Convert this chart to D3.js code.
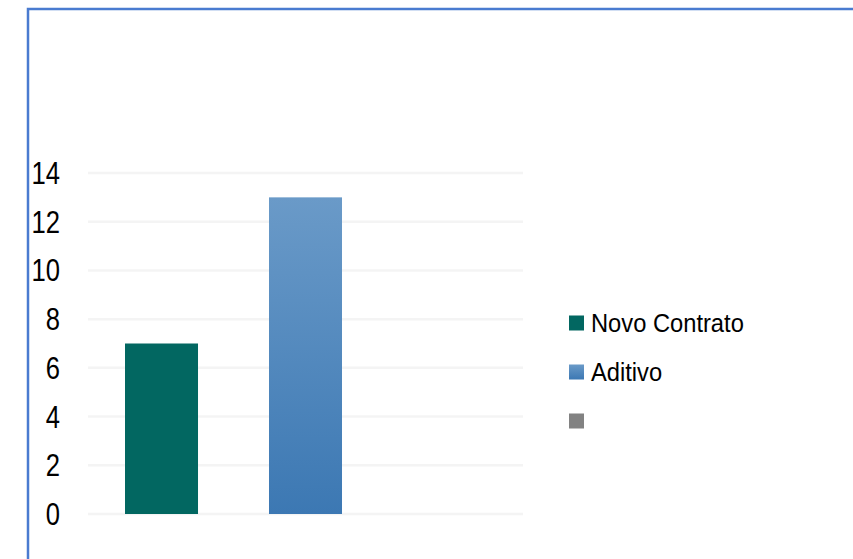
<!DOCTYPE html>
<meta charset="utf-8">
<style>
body { margin: 0; background: #fff; }
svg { font-family: "Liberation Sans", Arial, sans-serif; }
.grid line { stroke: #f4f4f4; stroke-width: 2.5px; }
.yaxis text { font-size: 30.5px; fill: #000; }
.legend text { font-size: 25.5px; fill: #000; }
</style>
<body>
<script src="https://cdn.jsdelivr.net/npm/d3@7"></script>
<script>
// data
var series = ["Novo Contrato", "Aditivo", ""];
var values = [7, 13, 0];
var colors = ["#026761", "url(#blueGrad)", "#828282"];
var yTicks = [0, 2, 4, 6, 8, 10, 12, 14];

var width = 853, height = 559;

var svg = d3.select("body").append("svg")
    .attr("width", width)
    .attr("height", height);

// gradient for the Aditivo bar
var defs = svg.append("defs");
var grad = defs.append("linearGradient")
    .attr("id", "blueGrad")
    .attr("x1", 0).attr("y1", 0).attr("x2", 0).attr("y2", 1);
grad.append("stop").attr("offset", "0%").attr("stop-color", "#6a9ac8");
grad.append("stop").attr("offset", "100%").attr("stop-color", "#3c78b3");

// outer border (runs off the right and bottom edges)
svg.append("rect")
    .attr("x", 28).attr("y", 9)
    .attr("width", 900).attr("height", 600)
    .attr("fill", "none")
    .attr("stroke", "#4a7bd0")
    .attr("stroke-width", 2.5);

// scales
var x = d3.scaleBand()
    .domain(series)
    .range([88, 523])
    .paddingInner(0.493)
    .paddingOuter(0.257);

var y = d3.scaleLinear()
    .domain([0, 14])
    .range([514, 173]);

// gridlines
svg.append("g")
    .attr("class", "grid")
  .selectAll("line")
    .data(yTicks)
  .enter().append("line")
    .attr("x1", 88).attr("x2", 523)
    .attr("y1", d => y(d)).attr("y2", d => y(d));

// y axis labels
var yAxis = svg.append("g")
    .attr("class", "yaxis")
    .attr("transform", "translate(60,0)")
    .call(d3.axisLeft(y).tickValues(yTicks).tickSize(0).tickPadding(0));
yAxis.select(".domain").remove();
yAxis.selectAll("text")
    .attr("font-family", null)
    .attr("font-size", null)
    .attr("fill", "#000")
    .attr("dy", "0.36em")
    .attr("transform", "scale(0.84,1)")
    .attr("x", 0);
yAxis.selectAll(".tick")
    .attr("transform", d => "translate(0," + y(d) + ")");

// bars
svg.selectAll(".bar")
    .data(series)
  .enter().append("rect")
    .attr("class", "bar")
    .attr("x", d => x(d))
    .attr("width", x.bandwidth())
    .attr("y", (d, i) => y(values[i]))
    .attr("height", (d, i) => y(0) - y(values[i]))
    .attr("fill", (d, i) => colors[i]);

// legend
var legend = svg.append("g").attr("class", "legend")
  .selectAll("g")
    .data(series)
  .enter().append("g")
    .attr("transform", (d, i) => "translate(569," + (323 + i * 49) + ")");

legend.append("rect")
    .attr("x", 0).attr("y", -7.5)
    .attr("width", 15).attr("height", 15)
    .attr("fill", (d, i) => colors[i]);

legend.append("text")
    .attr("x", 22)
    .attr("dy", "0.36em")
    .attr("transform", "scale(0.93,1)")
    .attr("transform-origin", "22 0")
    .text(d => d);
</script>
</body>
